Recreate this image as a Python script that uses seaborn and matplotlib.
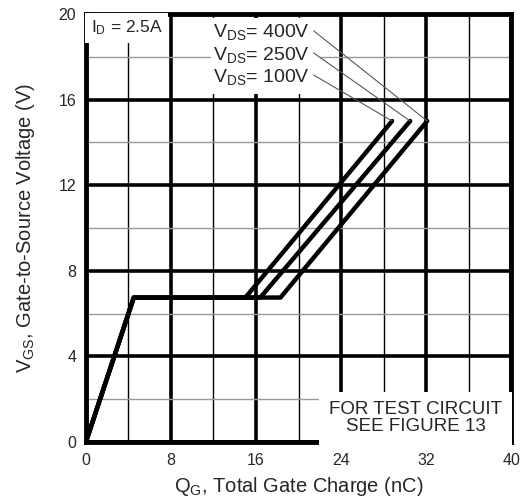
import numpy as np
import pandas as pd
import matplotlib
matplotlib.use("Agg")
import matplotlib.pyplot as plt
from matplotlib.patches import Rectangle
import seaborn as sns

# gate charge curves
vgs = [0, 6.75, 6.75, 15.0]
qg_100v = [0, 4.5, 15.0, 28.8]
qg_250v = [0, 4.5, 16.4, 30.5]
qg_400v = [0, 4.5, 18.3, 32.1]
vds_labels = ["100V", "250V", "400V"]

x_ticks = [0, 8, 16, 24, 32, 40]
y_ticks = [0, 4, 8, 12, 16, 20]

sns.set_theme(style="white")
plt.rcParams['font.family'] = ['Liberation Sans', 'DejaVu Sans']
plt.rcParams['mathtext.default'] = 'regular'

rows = []
for lab, qg in zip(vds_labels, [qg_100v, qg_250v, qg_400v]):
    for q, v in zip(qg, vgs):
        rows.append({'qg': q, 'vgs': v, 'vds': lab})
df = pd.DataFrame(rows)

fig = plt.figure(figsize=(5.27, 5.0), dpi=100)
ax = fig.add_axes([0.163, 0.116, 0.807, 0.856])

sns.lineplot(data=df, x='qg', y='vgs', hue='vds', sort=False,
             palette=['black'] * 3, linewidth=3.2, legend=False, ax=ax, zorder=4)

ax.set_xlim(0, 40)
ax.set_ylim(0, 20)
ax.set_xticks(x_ticks)
ax.set_yticks(y_ticks)
ax.set_xticks(np.arange(0, 41, 4), minor=True)
ax.set_yticks(np.arange(0, 21, 2), minor=True)
ax.set_axisbelow(True)
ax.xaxis.grid(True, which='major', color='black', lw=2.6)
ax.yaxis.grid(True, which='major', color='black', lw=2.6)
ax.xaxis.grid(True, which='minor', color='black', lw=1.0)
ax.yaxis.grid(True, which='minor', color='0.6', lw=1.0)
ax.tick_params(which='both', length=0, labelsize=11.5)
ax.tick_params(axis='x', pad=8)
ax.tick_params(axis='y', pad=7)
for s in ax.spines.values():
    s.set_linewidth(3.5)
    s.set_color('black')
    s.set_visible(True)

ax.set_xlabel("Q$_G$, Total Gate Charge (nC)", fontsize=14.5, labelpad=5)
ax.set_ylabel("V$_{GS}$, Gate-to-Source Voltage (V)", fontsize=14.5)
ax.yaxis.set_label_coords(-0.115, 0.5)

ax.text(0.45, 19.35, "I$_D$ = 2.5A", fontsize=12.5, va='center', ha='left',
        bbox=dict(facecolor='white', edgecolor='none', pad=4), zorder=5)

# one white patch behind the three V_DS labels
ax.add_patch(Rectangle((11.8, 16.25), 10.2, 3.55, facecolor='white',
                       edgecolor='none', zorder=4.5))

ends = {"100V": (qg_100v[-1], vgs[-1]), "250V": (qg_250v[-1], vgs[-1]),
        "400V": (qg_400v[-1], vgs[-1])}
label_y = {"400V": 19.15, "250V": 18.1, "100V": 17.05}
for lab in ["400V", "250V", "100V"]:
    ax.annotate("V$_{DS}$= " + lab, xy=ends[lab], xytext=(12.0, label_y[lab]),
                fontsize=14, va='center', ha='left', zorder=5,
                arrowprops=dict(arrowstyle='-', color='0.35', lw=0.8,
                                shrinkA=0, shrinkB=0, relpos=(1, 0.7)))

ax.text(31.0, 1.1, "FOR TEST CIRCUIT\nSEE FIGURE 13", fontsize=13.5,
        ha='center', va='center', linespacing=1.0, zorder=5,
        bbox=dict(facecolor='white', edgecolor='none', pad=7))

fig.savefig("out.png", dpi=100)
